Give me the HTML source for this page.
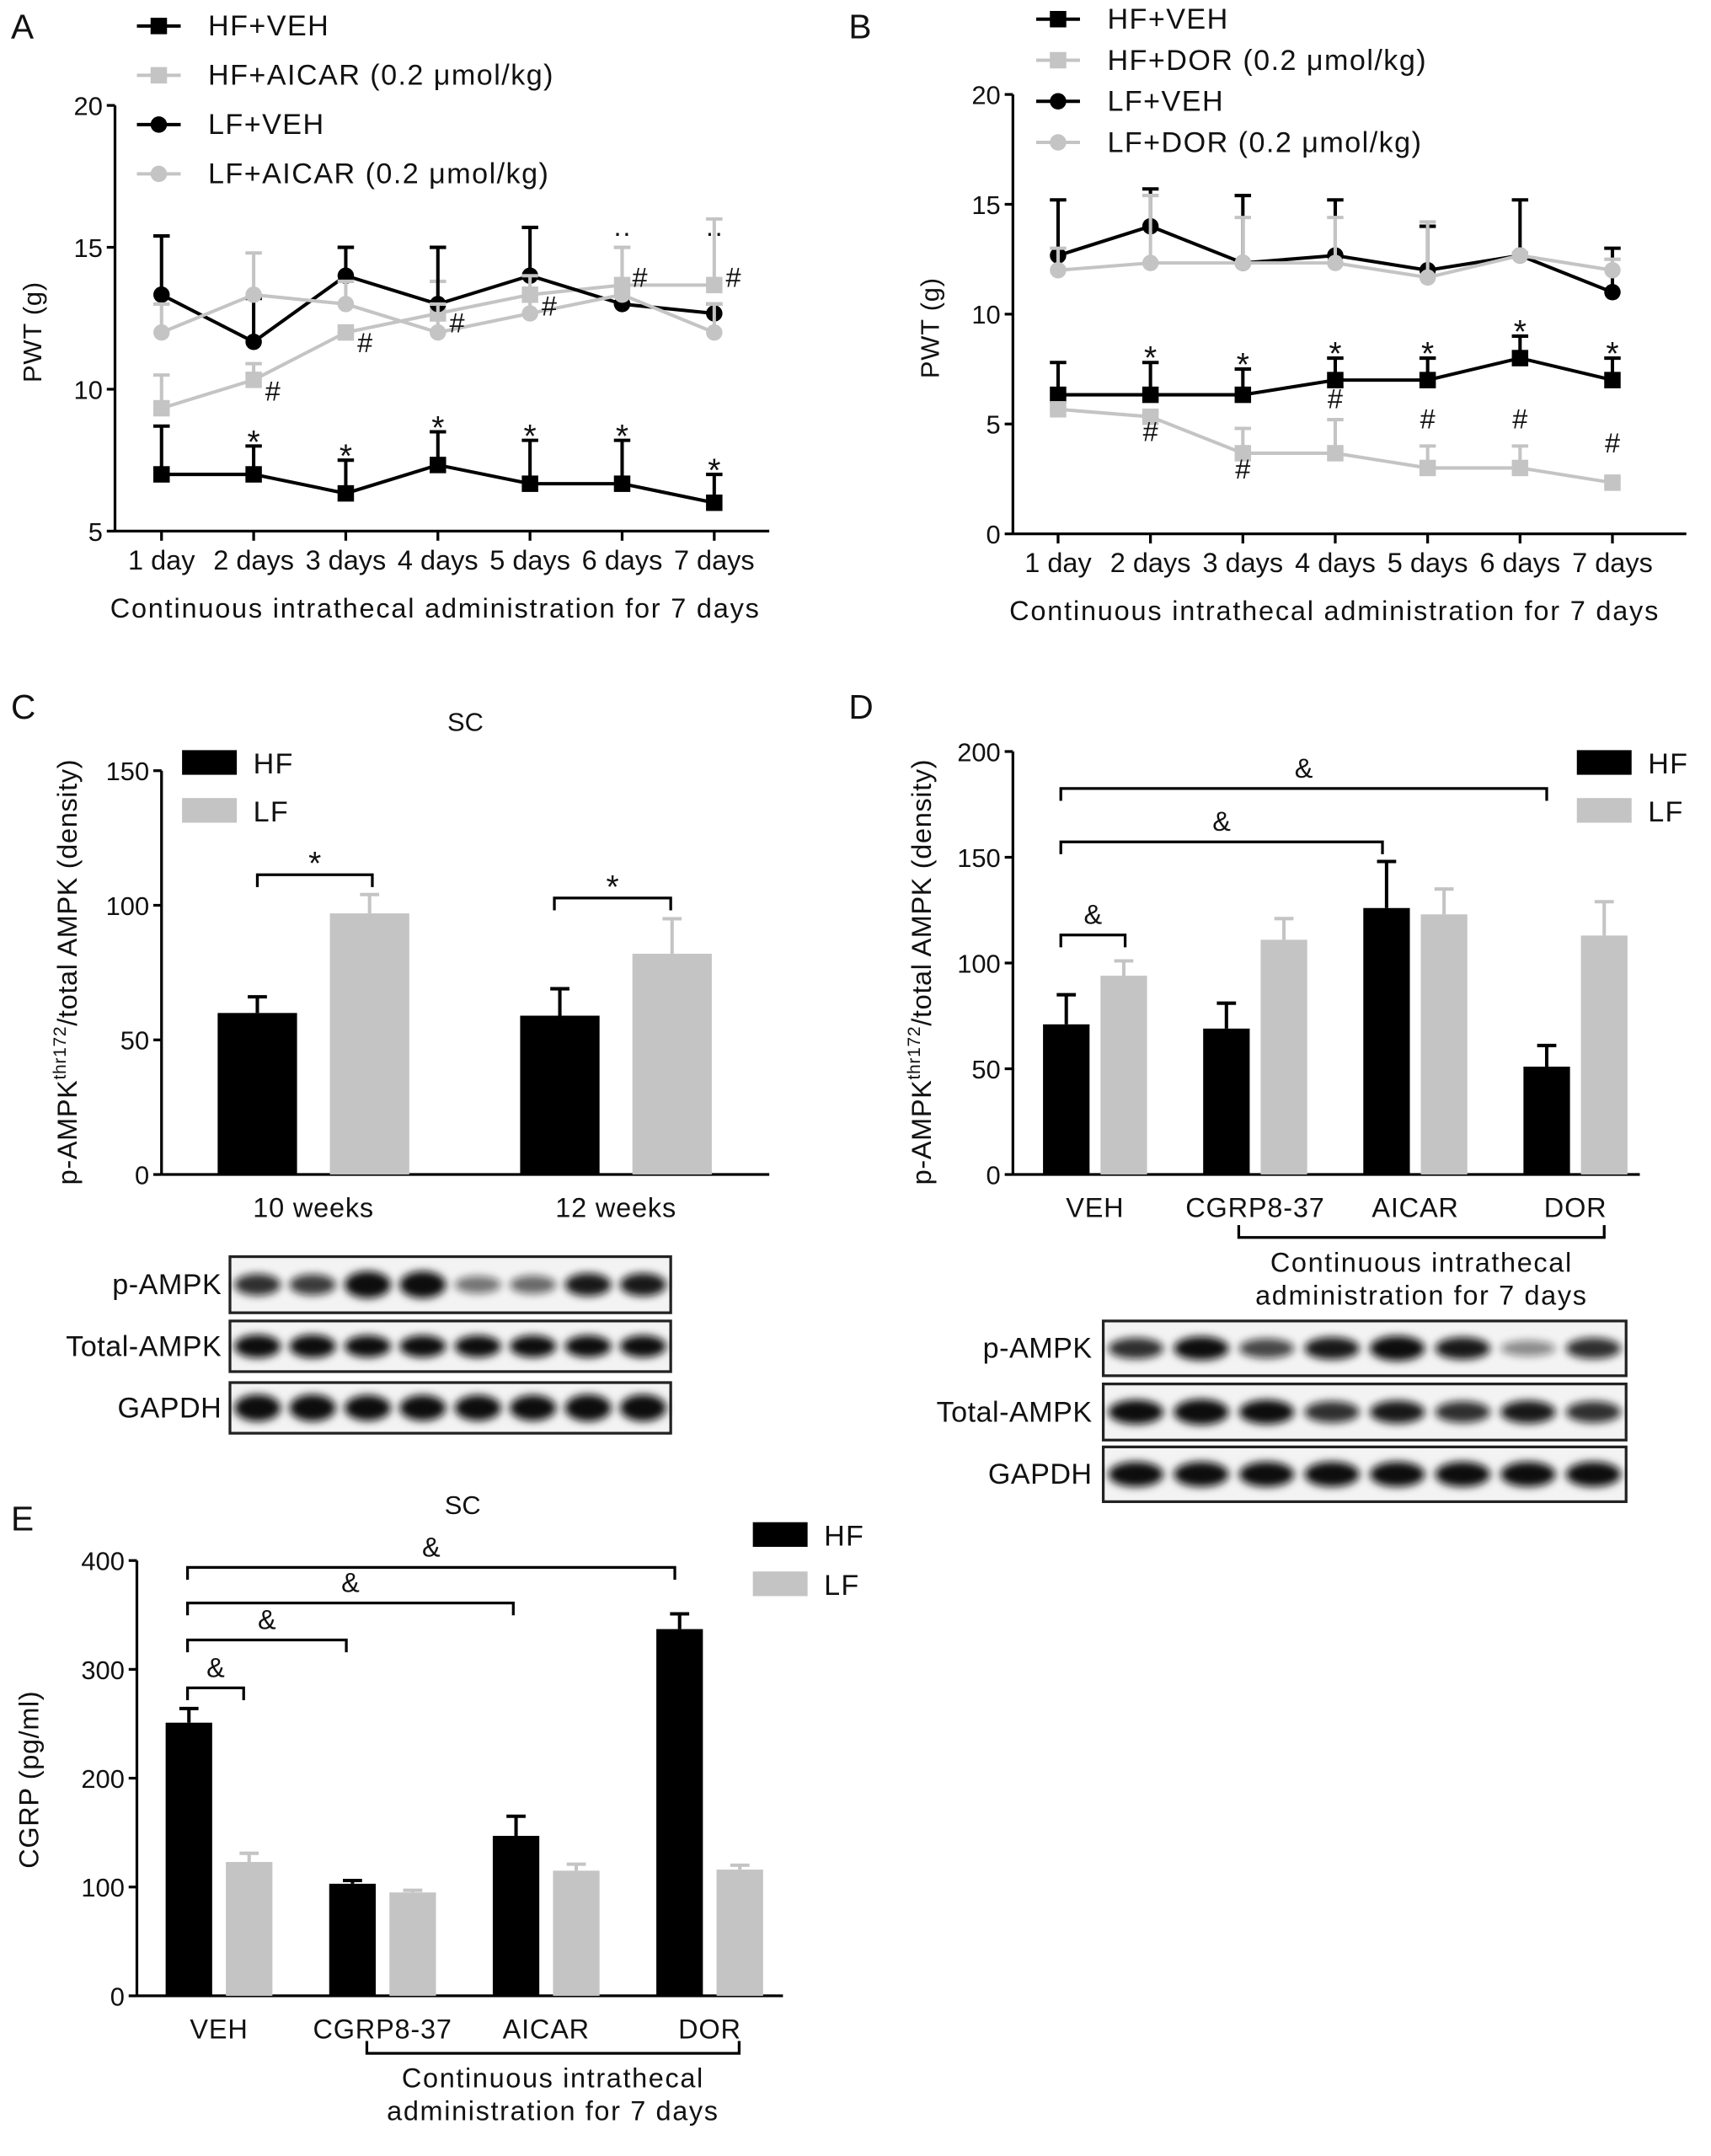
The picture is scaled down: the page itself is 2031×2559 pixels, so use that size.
<!DOCTYPE html>
<html><head><meta charset="utf-8">
<style>
html,body{margin:0;padding:0;background:#fff;}
svg{display:block;font-family:"Liberation Sans",Arial,sans-serif;}
</style></head>
<body>
<svg id="fig" width="2031" height="2559" viewBox="0 0 1250 1575" xmlns="http://www.w3.org/2000/svg">
<defs><filter id="blur" x="-50%" y="-50%" width="200%" height="200%"><feGaussianBlur stdDeviation="3"/></filter></defs>
</svg>
<script>
// ---- Panel A data ----
const daysLabels = ["1 day","2 days","3 days","4 days","5 days","6 days","7 days"];
const aHFVEH = [7,7,6.33,7.33,6.67,6.67,6];
const aHFVEHerr = [8.7,8,7.5,8.5,8.2,8.2,7];
const aHFAIC = [9.33,10.33,12,12.67,13.33,13.67,13.67];
const aHFAICerr = [10.5,10.9,12,13.8,14,15,16];
const aLFVEH = [13.33,11.67,14,13,14,13,12.67];
const aLFVEHerr = [15.4,13.2,15,15,15.7,13,13];
const aLFAIC = [12,13.33,13,12,12.67,13.33,12];
const aLFAICerr = [13,14.8,13.8,13,14,15,13];
const aTicks = [5,10,15,20];
// ---- Panel B data ----
const bHFVEH = [6.33,6.33,6.33,7,7,8,7];
const bHFVEHerr = [7.8,7.8,7.5,8,8,9,8];
const bHFDOR = [5.67,5.33,3.67,3.67,3,3,2.33];
const bHFDORerr = [5.7,5.5,4.8,5.2,4,4,2.5];
const bLFVEH = [12.67,14,12.33,12.67,12,12.67,11];
const bLFVEHerr = [15.2,15.7,15.4,15.2,14,15.2,13];
const bLFDOR = [12,12.33,12.33,12.33,11.67,12.67,12];
const bLFDORerr = [13,15.4,14.4,14.4,14.2,12.8,12.5];
const bTicks = [0,5,10,15,20];
// ---- Panel C data ----
const cCats = ["10 weeks","12 weeks"];
const cHF = [60,59]; const cHFerr = [66,69];
const cLF = [97,82]; const cLFerr = [104,95];
const cTicks = [0,50,100,150];
// ---- Panel D data ----
const dCats = ["VEH","CGRP8-37","AICAR","DOR"];
const dHF = [71,69,126,51]; const dHFerr = [85,81,148,61];
const dLF = [94,111,123,113]; const dLFerr = [101,121,135,129];
const dTicks = [0,50,100,150,200];
// ---- Panel E data ----
const eCats = ["VEH","CGRP8-37","AICAR","DOR"];
const eHF = [251,103,147,337]; const eHFerr = [264,106,165,351];
const eLF = [123,95,115,116]; const eLFerr = [131,97,121,120];
const eTicks = [0,100,200,300,400];

const svg = document.getElementById('fig');
const NS = "http://www.w3.org/2000/svg";
function mk(tag, attrs, parent, txt){
  const e = document.createElementNS(NS, tag);
  for (const k in attrs) e.setAttribute(k, attrs[k]);
  if (txt !== undefined) e.textContent = txt;
  (parent||svg).appendChild(e); return e;
}
function grp(name){ const g = mk('g',{});   return g; }
function txt(g, x, y, s, size, anchor, name, ls){
  const t = mk('text', {x:x, y:y, 'font-size':size, 'text-anchor':anchor||'middle', fill:'#111', 'letter-spacing':(ls||0)}, g, s);
    return t;
}
const BK = '#000', GR = '#c4c4c4';

[["A",8,28],["B",620,28],["C",8,525],["D",620,525],["E",8,1118]].forEach(p=>{
  const g = grp('panel-label-'+p[0].toLowerCase());
  txt(g,p[1],p[2],p[0],25,'start','panel-letter');
});

function yAxis(g, x, y0, y1, ticks, sy){
  mk('line',{x1:x,y1:y0,x2:x,y2:y1,stroke:BK,'stroke-width':2},g);
  ticks.forEach(t=>{
    mk('line',{x1:x-6,y1:sy(t),x2:x,y2:sy(t),stroke:BK,'stroke-width':2},g);
    txt(g,x-9,sy(t)+7,String(t),19,'end','y-tick-label');
  });
}

function linePanel(cfg){
  const g = grp(cfg.name);
  const sy = v => cfg.yb - (v - cfg.vmin)*(cfg.yb-cfg.yt)/(cfg.vmax-cfg.vmin);
  const sx = i => cfg.x0 + i*cfg.dx;
  yAxis(g, cfg.ax, cfg.yb, cfg.yt, cfg.ticks, sy);
  mk('line',{x1:cfg.ax,y1:cfg.yb,x2:cfg.axEnd,y2:cfg.yb,stroke:BK,'stroke-width':2},g);
  daysLabels.forEach((d,i)=>{
    mk('line',{x1:sx(i),y1:cfg.yb,x2:sx(i),y2:cfg.yb+7,stroke:BK,'stroke-width':2},g);
    txt(g,sx(i),cfg.yb+28,d,20,'middle','x-tick-label');
  });
  txt(g,cfg.titleX,cfg.yb+63,"Continuous intrathecal administration for 7 days",20,'middle','x-axis-title',1.1);
  const yt = txt(g,0,0,"PWT (g)",19,'middle','y-axis-title',0.5);
  yt.setAttribute('transform',`translate(${cfg.ax-54},${(cfg.yt+cfg.yb)/2+10}) rotate(-90)`);
  cfg.series.forEach(s=>{
    const sg = mk('g',{},g);
    
    
    s.err.forEach((e,i)=>{
      mk('line',{x1:sx(i),y1:sy(s.v[i]),x2:sx(i),y2:sy(e),stroke:s.c,'stroke-width':2.5},sg);
      mk('line',{x1:sx(i)-6,y1:sy(e),x2:sx(i)+6,y2:sy(e),stroke:s.c,'stroke-width':2.5},sg);
    });
    mk('polyline',{points:s.v.map((v,i)=>sx(i)+','+sy(v)).join(' '),fill:'none',stroke:s.c,'stroke-width':2.5},sg);
    s.v.forEach((v,i)=>{
      let m;
      if (s.sq) m = mk('rect',{x:sx(i)-6,y:sy(v)-6,width:12,height:12,fill:s.c},sg);
      else m = mk('circle',{cx:sx(i),cy:sy(v),r:6,fill:s.c},sg);
      
      
    });
  });
  cfg.series.forEach((s,k)=>{
    const lg = mk('g',{},g);
    
    
    const ly = cfg.legY + k*cfg.legDy;
    mk('line',{x1:cfg.legX,y1:ly,x2:cfg.legX+32,y2:ly,stroke:s.c,'stroke-width':2.5},lg);
    if (s.sq) mk('rect',{x:cfg.legX+10,y:ly-6,width:12,height:12,fill:s.c},lg);
    else mk('circle',{cx:cfg.legX+16,cy:ly,r:6,fill:s.c},lg);
    txt(lg,cfg.legX+52,ly+7,s.label,21,'start','legend-label',0.9);
  });
  cfg.marks.forEach(m=>{ txt(g,sx(m[0])+(m[3]||0),sy(m[1])+(m[4]||0),m[2],m[2]=='*'?24:20,'middle','significance-mark'); });
}

linePanel({name:'panel-a-chart',ax:84,axEnd:562,yb:388,yt:77,vmin:5,vmax:20,ticks:aTicks,x0:118,dx:67.3,titleX:318,
  legX:100,legY:19,legDy:36,
  series:[
   {name:'series-hf-veh',label:'HF+VEH',v:aHFVEH,err:aHFVEHerr,c:BK,sq:true},
   {name:'series-hf-aicar',label:'HF+AICAR (0.2 μmol/kg)',v:aHFAIC,err:aHFAICerr,c:GR,sq:true},
   {name:'series-lf-veh',label:'LF+VEH',v:aLFVEH,err:aLFVEHerr,c:BK,sq:false},
   {name:'series-lf-aicar',label:'LF+AICAR (0.2 μmol/kg)',v:aLFAIC,err:aLFAICerr,c:GR,sq:false}],
  marks:[[1,7.75,'*'],[2,7.25,'*'],[3,8.25,'*'],[4,7.95,'*'],[5,7.95,'*'],[6,6.75,'*'],
         [1,9.6,'#',14],[2,11.3,'#',14],[3,12,'#',14],[4,12.6,'#',14],[5,13.6,'#',13],[6,13.6,'#',14],[5,15.2,'··',0],[6,15.2,'··',0]]
});
linePanel({name:'panel-b-chart',ax:740,axEnd:1232,yb:390,yt:69,vmin:0,vmax:20,ticks:bTicks,x0:773,dx:67.5,titleX:975,
  legX:757,legY:14,legDy:30,
  series:[
   {name:'series-hf-veh',label:'HF+VEH',v:bHFVEH,err:bHFVEHerr,c:BK,sq:true},
   {name:'series-hf-dor',label:'HF+DOR (0.2 μmol/kg)',v:bHFDOR,err:bHFDORerr,c:GR,sq:true},
   {name:'series-lf-veh',label:'LF+VEH',v:bLFVEH,err:bLFVEHerr,c:BK,sq:false},
   {name:'series-lf-dor',label:'LF+DOR (0.2 μmol/kg)',v:bLFDOR,err:bLFDORerr,c:GR,sq:false}],
  marks:[[1,7.5,'*'],[2,7.2,'*'],[3,7.7,'*'],[4,7.7,'*'],[5,8.7,'*'],[6,7.7,'*'],
         [1,4.6,'#',0,6],[2,2.9,'#',0,6],[3,6.1,'#',0,6],[4,4.8,'#'],[5,4.8,'#'],[6,3.7,'#']]
});

function barPanel(cfg){
  const g = grp(cfg.name);
  const sy = v => cfg.yb - v*(cfg.yb-cfg.yt)/cfg.vmax;
  yAxis(g, cfg.ax, cfg.yb, cfg.yt, cfg.ticks, sy);
  mk('line',{x1:cfg.ax,y1:cfg.yb,x2:cfg.axEnd,y2:cfg.yb,stroke:BK,'stroke-width':2},g);
  cfg.cats.forEach((c,i)=>{
    const cx = cfg.c0 + i*cfg.dc;
    [[cfg.hf,cfg.hfe,BK,-1],[cfg.lf,cfg.lfe,GR,1]].forEach(s=>{
      const bx = cx + (s[3]<0 ? -cfg.gap/2-cfg.bw : cfg.gap/2);
      const mid = bx+cfg.bw/2;
      mk('line',{x1:mid,y1:sy(s[0][i]),x2:mid,y2:sy(s[1][i]),stroke:s[2],'stroke-width':2.5},g);
      mk('line',{x1:mid-7,y1:sy(s[1][i]),x2:mid+7,y2:sy(s[1][i]),stroke:s[2],'stroke-width':2.5},g);
      const r = mk('rect',{x:bx,y:sy(s[0][i]),width:cfg.bw,height:sy(0)-sy(s[0][i]),fill:s[2]},g);
      
      
    });
    txt(g,cx,cfg.yb+31,c,20,'middle','x-tick-label',0.5);
  });
  const yt = txt(g,0,0,'',20,'middle','y-axis-title',0.4);
  yt.setAttribute('transform',`translate(${cfg.titleX},${cfg.titleY}) rotate(-90)`);
  if (cfg.ampk){
    yt.appendChild(document.createTextNode('p-AMPK'));
    mk('tspan',{'font-size':13,dy:-8},yt,'thr172');
    mk('tspan',{dy:8},yt,'/total AMPK (density)');
  } else yt.textContent = cfg.ytitle;
  if (cfg.sc) txt(g,cfg.sc[0],cfg.sc[1],'SC',19,'middle','panel-subtitle');
  [['HF',BK,0],['LF',GR,1]].forEach(l=>{
    const lg = mk('g',{},g);
    
    
    const ly = cfg.legY + l[2]*cfg.legDy;
    mk('rect',{x:cfg.legX,y:ly-9,width:40,height:18,fill:l[1]},lg);
    txt(lg,cfg.legX+52,ly+8,l[0],21,'start','legend-label',0.8);
  });
  cfg.brackets.forEach(b=>{
    const bg = mk('g',{},g);
    
    
    mk('polyline',{points:`${b[0]},${b[2]+9} ${b[0]},${b[2]} ${b[1]},${b[2]} ${b[1]},${b[2]+9}`,fill:'none',stroke:BK,'stroke-width':2},bg);
    txt(bg,(b[0]+b[1])/2,b[2]-(b[3]=='*'?0:8),b[3],b[3]=='*'?24:20,'middle','significance-mark');
  });
  if (cfg.under){
    const u = cfg.under;
    mk('polyline',{points:`${u[0]},${u[2]} ${u[0]},${u[2]+9} ${u[1]},${u[2]+9} ${u[1]},${u[2]}`,fill:'none',stroke:BK,'stroke-width':2},g);
    txt(g,(u[0]+u[1])/2,u[2]+34,'Continuous intrathecal',20,'middle','group-label',1);
    txt(g,(u[0]+u[1])/2,u[2]+58,'administration for 7 days',20,'middle','group-label',1);
  }
}

barPanel({name:'panel-c-chart',ax:118,axEnd:562,yb:858,yt:563,vmax:150,ticks:cTicks,cats:cCats,hf:cHF,hfe:cHFerr,lf:cLF,lfe:cLFerr,
  c0:229,dc:221,bw:58,gap:24,ampk:true,titleX:56,titleY:710,sc:[340,534],legX:133,legY:557,legDy:35,
  brackets:[[188,272,639,'*'],[405,490,656,'*']]});
barPanel({name:'panel-d-chart',ax:740,axEnd:1198,yb:858,yt:549,vmax:200,ticks:dTicks,cats:dCats,hf:dHF,hfe:dHFerr,lf:dLF,lfe:dLFerr,
  c0:800,dc:117,bw:34,gap:8,ampk:true,titleX:680,titleY:710,legX:1152,legY:557,legDy:35,
  brackets:[[775,822,683,'&'],[775,1010,615,'&'],[775,1130,576,'&']],under:[905,1172,895]});
barPanel({name:'panel-e-chart',ax:100,axEnd:572,yb:1458,yt:1140,vmax:400,ticks:eTicks,cats:eCats,hf:eHF,hfe:eHFerr,lf:eLF,lfe:eLFerr,
  c0:160,dc:119.5,bw:34,gap:10,ampk:false,ytitle:'CGRP (pg/ml)',titleX:28,titleY:1300,sc:[338,1106],legX:550,legY:1121,legDy:36,
  brackets:[[137,178,1233,'&'],[137,253,1198,'&'],[137,375,1171,'&'],[137,493,1145,'&']],under:[268,540,1491]});

function blot(name, x, w, rows, labelX){
  const g = grp(name);
  rows.forEach(r=>{
    const rg = mk('g',{},g);
    
    
    mk('rect',{x:x,y:r.y,width:w,height:r.h,fill:'#f3f3f3',stroke:'#222','stroke-width':2},rg);
    const n = r.bands.length, lw = w/n;
    r.bands.forEach((b,i)=>{
      if (b>0) mk('ellipse',{cx:x+lw*(i+0.5),cy:r.y+r.h/2,rx:lw*0.42,ry:r.h*0.2*(0.6+b*0.6),fill:'#111',opacity:Math.min(1,0.25+b),filter:'url(#blur)'},rg);
    });
    txt(rg,labelX,r.y+r.h/2+7,r.label,21,'end','blot-label',0.3);
  });
}
blot('panel-c-blots',168,322,[
  {label:'p-AMPK',y:918,h:41,bands:[0.6,0.55,1,1,0.3,0.35,0.7,0.7]},
  {label:'Total-AMPK',y:965,h:37,bands:[0.9,0.9,0.8,0.8,0.8,0.8,0.8,0.8]},
  {label:'GAPDH',y:1010,h:37,bands:[1.2,1.2,1.1,1.1,1.1,1.1,1.2,1.2]}],162);
blot('panel-d-blots',806,382,[
  {label:'p-AMPK',y:965,h:40,bands:[0.6,0.8,0.5,0.7,0.9,0.7,0.2,0.6]},
  {label:'Total-AMPK',y:1011,h:41,bands:[0.8,0.9,0.8,0.6,0.7,0.6,0.7,0.6]},
  {label:'GAPDH',y:1057,h:40,bands:[0.9,0.9,0.9,0.9,0.9,0.9,0.9,0.9]}],798);
</script>
</body></html>
